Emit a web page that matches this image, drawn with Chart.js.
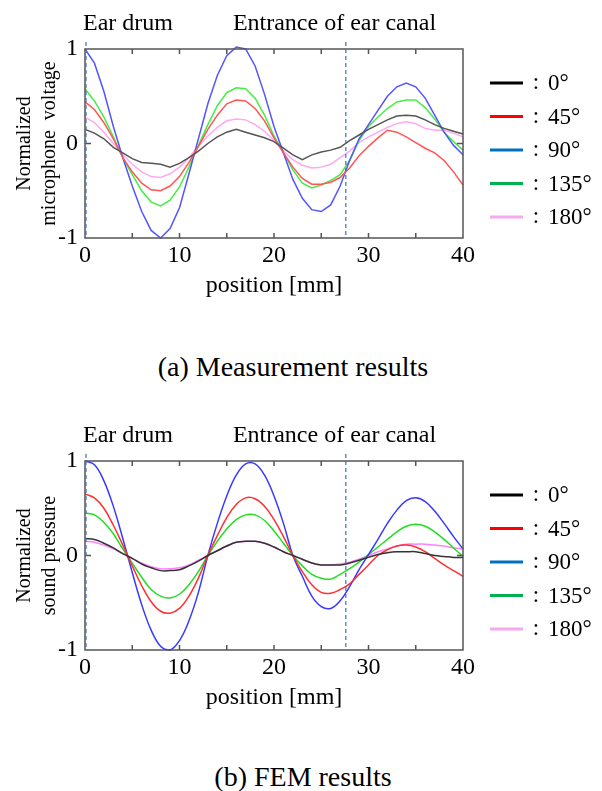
<!DOCTYPE html>
<html>
<head>
<meta charset="utf-8">
<script src="https://cdn.jsdelivr.net/npm/chart.js@4"></script>
<style>
  body { margin: 0; background: #fff; }
  #page { position: relative; width: 602px; height: 791px; font-family: "Liberation Serif", "Times New Roman", serif; }
  .box { position: absolute; left: 0; width: 602px; height: 320px; }
  .caption { position: absolute; width: 602px; text-align: center; font-size: 28px; color: #000; line-height: 32px; }
</style>
</head>
<body>
<div id="page">
  <div class="box" style="top:0"><canvas id="measChart"></canvas></div>
  <div class="caption" style="top:351px; left:-8px">(a) Measurement results</div>
  <div class="box" style="top:412px"><canvas id="femChart"></canvas></div>
  <div class="caption" style="top:761px; left:2px">(b) FEM results</div>
</div>
<script>
// position along the ear canal [mm]
const positions = [0, 1, 2, 3, 4, 5, 6, 7, 8, 9, 10, 11, 12, 13, 14, 15, 16, 17, 18, 19, 20,
  21, 22, 23, 24, 25, 26, 27, 28, 29, 30, 31, 32, 33, 34, 35, 36, 37, 38, 39, 40];

const angleLabels = ["0°", "45°", "90°", "135°", "180°"];
const markers = [0, 27.6]; // ear drum, entrance of ear canal

// (a) measurement, normalized microphone voltage
const meas0 = [0.15, 0.11, 0.05, -0.04, -0.10, -0.16, -0.20, -0.21, -0.22, -0.25, -0.21, -0.15, -0.08, 0.00, 0.07, 0.12, 0.15, 0.12, 0.09, 0.06, 0.02,
  -0.05, -0.12, -0.17, -0.12, -0.09, -0.07, -0.04, 0.03, 0.09, 0.15, 0.20, 0.25, 0.29, 0.30, 0.29, 0.25, 0.20, 0.16, 0.13, 0.10];
const meas45 = [0.44, 0.36, 0.22, 0.05, -0.15, -0.30, -0.42, -0.49, -0.50, -0.45, -0.35, -0.20, -0.03, 0.15, 0.30, 0.42, 0.46, 0.45, 0.37, 0.24, 0.06,
  -0.10, -0.25, -0.37, -0.43, -0.43, -0.41, -0.36, -0.26, -0.13, -0.03, 0.06, 0.14, 0.12, 0.07, 0.01, -0.05, -0.10, -0.18, -0.30, -0.44];
const meas90 = [1.00, 0.85, 0.55, 0.18, -0.15, -0.45, -0.72, -0.92, -1.00, -0.90, -0.68, -0.32, 0.05, 0.42, 0.72, 0.93, 1.02, 1.00, 0.82, 0.52, 0.18,
  -0.10, -0.38, -0.58, -0.70, -0.72, -0.65, -0.45, -0.18, 0.05, 0.20, 0.35, 0.50, 0.60, 0.64, 0.60, 0.48, 0.30, 0.12, -0.02, -0.12];
const meas135 = [0.58, 0.45, 0.28, 0.07, -0.15, -0.33, -0.50, -0.62, -0.66, -0.60, -0.46, -0.25, -0.02, 0.20, 0.40, 0.54, 0.59, 0.58, 0.48, 0.30, 0.08,
  -0.10, -0.28, -0.42, -0.47, -0.44, -0.39, -0.33, -0.18, 0.03, 0.18, 0.28, 0.37, 0.44, 0.46, 0.46, 0.38, 0.26, 0.12, 0.02, -0.07];
const meas180 = [0.28, 0.22, 0.12, 0.00, -0.12, -0.22, -0.30, -0.35, -0.36, -0.32, -0.25, -0.15, -0.03, 0.08, 0.17, 0.24, 0.26, 0.25, 0.20, 0.13, 0.03,
  -0.08, -0.17, -0.23, -0.26, -0.25, -0.22, -0.15, -0.08, 0.01, 0.07, 0.12, 0.17, 0.21, 0.23, 0.21, 0.16, 0.14, 0.14, 0.11, 0.07];

// (b) FEM, normalized sound pressure
const fem0 = [0.18, 0.17, 0.13, 0.08, 0.02, -0.03, -0.09, -0.13, -0.16, -0.16, -0.15, -0.11, -0.06, 0.00, 0.05, 0.10, 0.14, 0.15, 0.15, 0.13, 0.09,
  0.04, 0.00, -0.04, -0.08, -0.10, -0.10, -0.10, -0.08, -0.05, -0.02, 0.01, 0.03, 0.04, 0.04, 0.04, 0.02, 0.00, -0.01, -0.02, -0.02];
const fem45 = [0.65, 0.61, 0.50, 0.32, 0.11, -0.11, -0.32, -0.49, -0.59, -0.61, -0.56, -0.43, -0.24, 0.00, 0.21, 0.40, 0.54, 0.61, 0.60, 0.52, 0.38,
  0.20, 0.00, -0.17, -0.31, -0.39, -0.40, -0.36, -0.30, -0.20, -0.10, 0.00, 0.06, 0.10, 0.11, 0.09, 0.04, -0.03, -0.10, -0.16, -0.22];
const fem90 = [1.00, 0.96, 0.79, 0.52, 0.18, -0.18, -0.52, -0.79, -0.96, -1.00, -0.90, -0.69, -0.39, 0.00, 0.34, 0.63, 0.85, 0.97, 0.97, 0.85, 0.63,
  0.34, 0.00, -0.22, -0.43, -0.54, -0.56, -0.48, -0.33, -0.15, 0.01, 0.17, 0.34, 0.48, 0.58, 0.61, 0.57, 0.47, 0.34, 0.20, 0.07];
const fem135 = [0.45, 0.43, 0.35, 0.23, 0.07, -0.08, -0.23, -0.36, -0.43, -0.45, -0.41, -0.31, -0.17, 0.00, 0.15, 0.28, 0.38, 0.43, 0.43, 0.37, 0.26,
  0.13, 0.00, -0.11, -0.20, -0.24, -0.25, -0.20, -0.14, -0.07, 0.01, 0.09, 0.17, 0.25, 0.31, 0.33, 0.31, 0.25, 0.17, 0.08, -0.01];
const fem180 = [0.15, 0.14, 0.11, 0.07, 0.02, -0.03, -0.08, -0.12, -0.14, -0.14, -0.13, -0.10, -0.05, 0.00, 0.05, 0.10, 0.14, 0.15, 0.15, 0.13, 0.09,
  0.04, 0.00, -0.04, -0.08, -0.10, -0.10, -0.09, -0.07, -0.04, 0.00, 0.04, 0.07, 0.10, 0.12, 0.12, 0.12, 0.11, 0.10, 0.08, 0.07];

const legendColors = ["#000000", "#ff0000", "#0070c0", "#00b050", "#f7a8ee"];
const measColors = ["#555555", "#ff5555", "#5555ff", "#44ee44", "#ffa8f4"];
const femColors = ["#333333", "#ff3030", "#3a3aff", "#22dd22", "#ff80ff"];

const FONT = '"Liberation Serif", "Times New Roman", serif';

// frame, inward ticks, dashed markers, top labels and the legend
const decorPlugin = {
  id: "decor",
  afterDatasetsDraw(chart) {
    const { ctx, chartArea: a, scales: { x, y } } = chart;
    ctx.save();
    ctx.strokeStyle = "#555";
    ctx.lineWidth = 1.5;
    ctx.strokeRect(a.left, a.top, a.right - a.left, a.bottom - a.top);

    ctx.beginPath();
    for (let v = 5; v < 40; v += 5) {
      const px = x.getPixelForValue(v);
      ctx.moveTo(px, a.top); ctx.lineTo(px, a.top + 5);
      ctx.moveTo(px, a.bottom); ctx.lineTo(px, a.bottom - 5);
    }
    const py = y.getPixelForValue(0);
    ctx.moveTo(a.left, py); ctx.lineTo(a.left + 6, py);
    ctx.moveTo(a.right, py); ctx.lineTo(a.right - 6, py);
    ctx.stroke();

    ctx.setLineDash([4, 3]);
    ctx.strokeStyle = "#3a6fc4";
    ctx.lineWidth = 1.2;
    markers.forEach(m => {
      const px = x.getPixelForValue(m) + (m === 0 ? 1 : 0);
      ctx.beginPath();
      ctx.moveTo(px, a.top - 7);
      ctx.lineTo(px, a.bottom);
      ctx.stroke();
    });
    ctx.setLineDash([]);

    ctx.fillStyle = "#000";
    ctx.font = "24px " + FONT;
    ctx.textBaseline = "alphabetic";
    ctx.textAlign = "left";
    ctx.fillText("Ear drum", x.getPixelForValue(0) - 2, a.top - 19);
    ctx.textAlign = "center";
    ctx.fillText("Entrance of ear canal", x.getPixelForValue(26.4), a.top - 19);

    ctx.font = "23px " + FONT;
    ctx.textBaseline = "middle";
    chart.data.datasets.forEach((ds, i) => {
      const ly = a.top + 34 + i * 33.5;
      ctx.strokeStyle = legendColors[i];
      ctx.lineWidth = 3;
      ctx.beginPath();
      ctx.moveTo(a.right + 27, ly);
      ctx.lineTo(a.right + 60, ly);
      ctx.stroke();
      ctx.textAlign = "center";
      ctx.fillText(":", a.right + 73, ly);
      ctx.textAlign = "left";
      ctx.fillText(ds.label, a.right + 85, ly + 1);
    });
    ctx.restore();
  }
};

function makeChart(id, series, colors, yTitle, tension) {
  const ctx = document.getElementById(id).getContext("2d");
  return new Chart(ctx, {
    type: "line",
    data: {
      labels: positions,
      datasets: series.map((values, i) => ({
        label: angleLabels[i],
        data: values.map((v, j) => ({ x: positions[j], y: v })),
        borderColor: colors[i],
        borderWidth: 1.5,
        pointRadius: 0,
        tension: tension,
        clip: 4,
      })),
    },
    options: {
      responsive: true,
      maintainAspectRatio: false,
      animation: false,
      layout: { padding: { top: 49, right: 139, bottom: 12, left: 0 } },
      plugins: { legend: { display: false }, tooltip: { enabled: false } },
      scales: {
        x: {
          type: "linear",
          min: 0,
          max: 40,
          grid: { display: false, drawTicks: false },
          border: { display: false },
          ticks: { stepSize: 10, color: "#000", font: { family: FONT, size: 24 }, padding: 3, maxRotation: 0 },
          title: { display: true, text: "position [mm]", color: "#000", font: { family: FONT, size: 24 }, padding: { top: 0, bottom: 8 } },
          afterFit: s => { s.height = 70; },
        },
        y: {
          min: -1,
          max: 1,
          grid: { display: false, drawTicks: false },
          border: { display: false },
          ticks: { stepSize: 1, color: "#000", font: { family: FONT, size: 24 }, padding: 7 },
          title: { display: true, text: yTitle, color: "#000", font: { family: FONT, size: 20, lineHeight: 1.25 }, padding: { top: 12, bottom: 0 } },
          afterFit: s => { s.width = 85; },
        },
      },
    },
    plugins: [decorPlugin],
  });
}

document.addEventListener("DOMContentLoaded", () => {
  makeChart("measChart", [meas0, meas45, meas90, meas135, meas180], measColors,
    ["Normalized", "microphone  voltage"], 0);
  makeChart("femChart", [fem0, fem45, fem90, fem135, fem180], femColors,
    ["Normalized", "sound pressure"], 0.4);
});
</script>
</body>
</html>
